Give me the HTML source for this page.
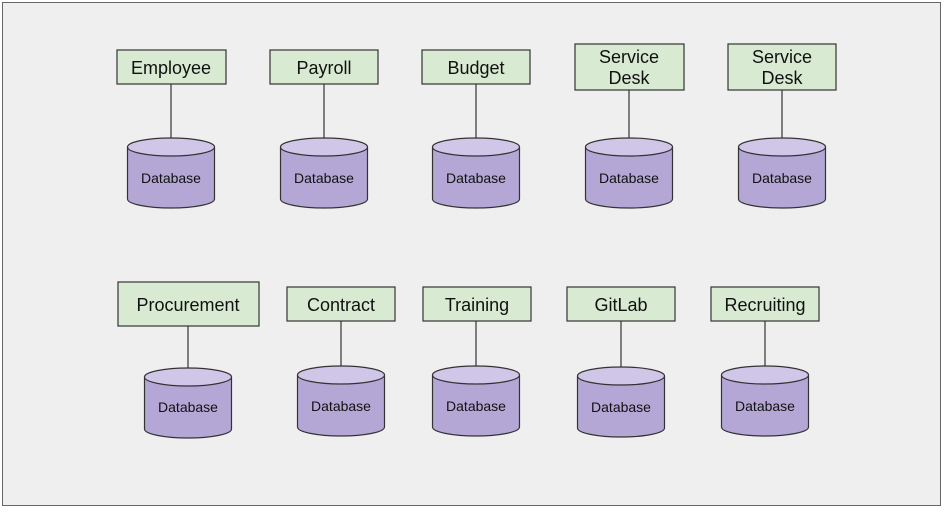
<!DOCTYPE html>
<html><head><style>body{margin:0;background:#fff}</style></head><body>
<svg width="944" height="508" xmlns="http://www.w3.org/2000/svg" font-family="Liberation Sans, Arial, sans-serif">
<rect x="2.5" y="2.5" width="938" height="503" fill="#efefef" stroke="#666" stroke-width="1"/>
<g stroke="#333" stroke-width="1.2">
<!-- row1 boxes -->
<rect x="117" y="50" width="109" height="34" fill="#d9ead3"/>
<rect x="270" y="50" width="108" height="34" fill="#d9ead3"/>
<rect x="422" y="50" width="108" height="34" fill="#d9ead3"/>
<rect x="575" y="44" width="109" height="46" fill="#d9ead3"/>
<rect x="728" y="44" width="108" height="46" fill="#d9ead3"/>
<line x1="171" y1="84" x2="171" y2="138"/>
<line x1="324" y1="84" x2="324" y2="138"/>
<line x1="476" y1="84" x2="476" y2="138"/>
<line x1="629" y1="90" x2="629" y2="138"/>
<line x1="782" y1="90" x2="782" y2="138"/>
<!-- row2 boxes -->
<rect x="118" y="282" width="141" height="44" fill="#d9ead3"/>
<rect x="287" y="287" width="108" height="34" fill="#d9ead3"/>
<rect x="423" y="287" width="108" height="34" fill="#d9ead3"/>
<rect x="567" y="287" width="108" height="34" fill="#d9ead3"/>
<rect x="711" y="287" width="108" height="34" fill="#d9ead3"/>
<line x1="188" y1="326" x2="188" y2="368"/>
<line x1="341" y1="321" x2="341" y2="366"/>
<line x1="476" y1="321" x2="476" y2="366"/>
<line x1="621" y1="321" x2="621" y2="367"/>
<line x1="765" y1="321" x2="765" y2="366"/>
</g>
<defs>
<g id="cyl">
<path d="M-43.5 9 L-43.5 61 A43.5 9 0 0 0 43.5 61 L43.5 9" fill="#b4a7d6" stroke="#333" stroke-width="1.2"/>
<ellipse cx="0" cy="9" rx="43.5" ry="9" fill="#d0c6e8" stroke="#333" stroke-width="1.2"/>
</g>
</defs>
<use href="#cyl" x="171" y="138"/>
<use href="#cyl" x="324" y="138"/>
<use href="#cyl" x="476" y="138"/>
<use href="#cyl" x="629" y="138"/>
<use href="#cyl" x="782" y="138"/>
<use href="#cyl" x="188" y="368"/>
<use href="#cyl" x="341" y="366"/>
<use href="#cyl" x="476" y="366"/>
<use href="#cyl" x="621" y="367"/>
<use href="#cyl" x="765" y="366"/>
<g font-size="14" fill="#111" text-anchor="middle">
<text x="171" y="183">Database</text>
<text x="324" y="183">Database</text>
<text x="476" y="183">Database</text>
<text x="629" y="183">Database</text>
<text x="782" y="183">Database</text>
<text x="188" y="412">Database</text>
<text x="341" y="411">Database</text>
<text x="476" y="411">Database</text>
<text x="621" y="412">Database</text>
<text x="765" y="411">Database</text>
</g>
<g font-size="18" fill="#111" text-anchor="middle">
<text x="171" y="74">Employee</text>
<text x="324" y="74">Payroll</text>
<text x="476" y="74">Budget</text>
<text x="629" y="63">Service</text>
<text x="629" y="84">Desk</text>
<text x="782" y="63">Service</text>
<text x="782" y="84">Desk</text>
<text x="188" y="311">Procurement</text>
<text x="341" y="311">Contract</text>
<text x="477" y="311">Training</text>
<text x="621" y="311">GitLab</text>
<text x="765" y="311">Recruiting</text>
</g>
</svg>
</body></html>
